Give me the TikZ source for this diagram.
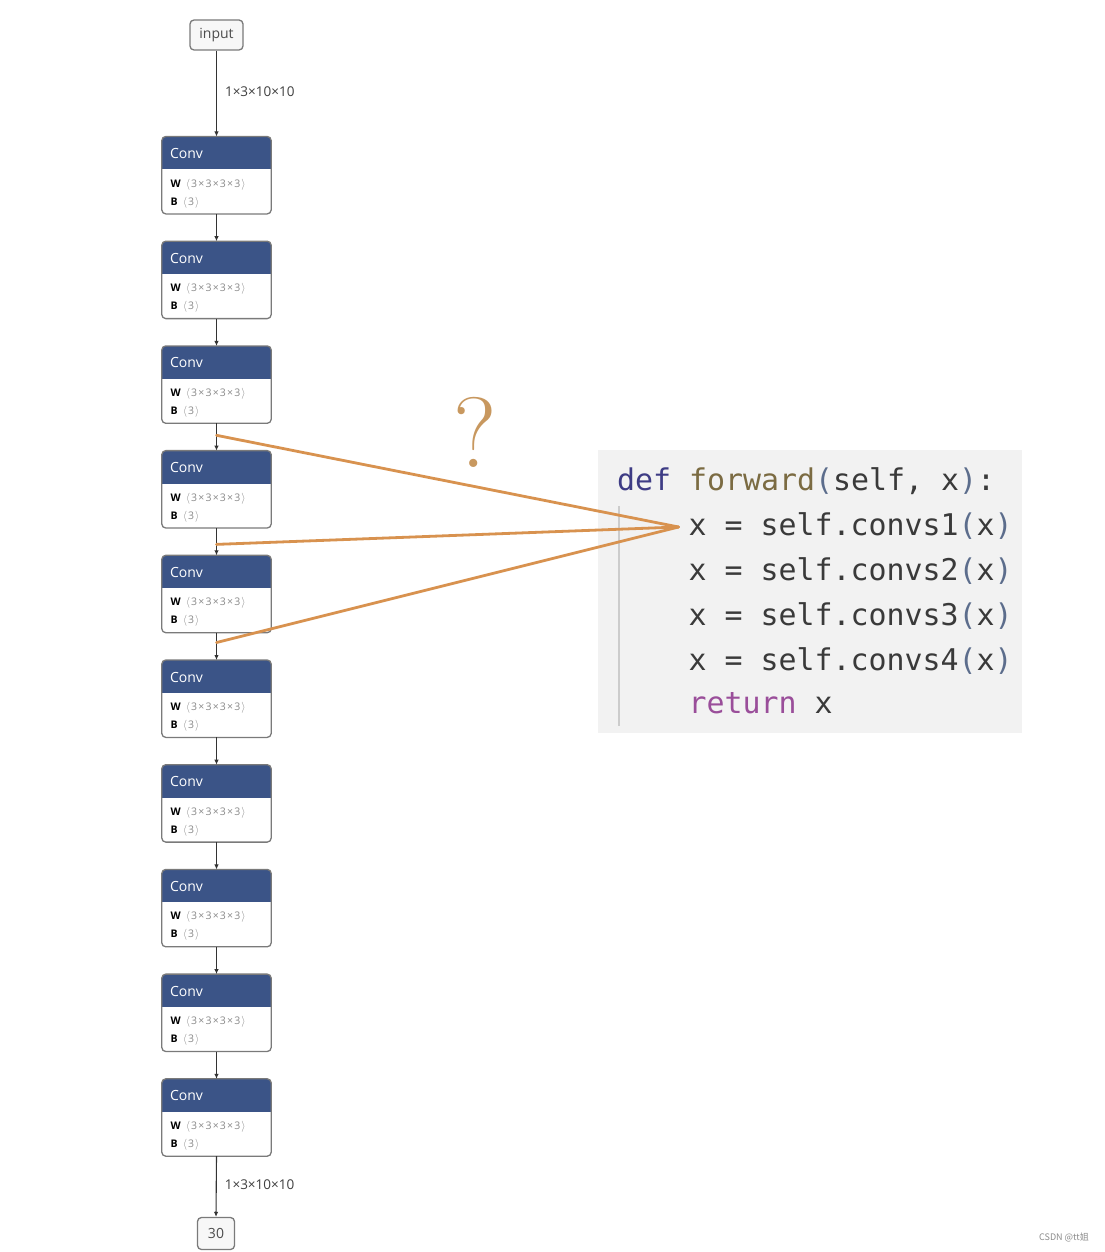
\documentclass[tikz,border=0pt]{standalone}
\usepackage{fontspec}
\usetikzlibrary{calc,arrows.meta}
\newfontfamily\uifont{Open Sans}
\newfontfamily\codefont{DejaVu Sans Mono}
\newfontfamily\cjkfont{Noto Sans CJK SC}
\definecolor{hdr}{HTML}{3B5487}
\definecolor{boxline}{HTML}{7A7A7A}
\definecolor{wire}{HTML}{D8924F}
\definecolor{qmark}{HTML}{C8985F}
\definecolor{codebg}{HTML}{F2F2F2}
\definecolor{kwdef}{HTML}{3E3C85}
\definecolor{fname}{HTML}{7B6B42}
\definecolor{paren}{HTML}{5C6D8C}
\definecolor{plain}{HTML}{3A3A3A}
\definecolor{kwret}{HTML}{9A4E9A}
\definecolor{dimtxt}{HTML}{8A8A8A}
\newcommand\timesgap{\kern1.2pt×\kern1.2pt}
\tikzset{
  convbox/.style={rectangle, minimum width=109pt, minimum height=77pt, inner sep=0pt},
  iobox/.style={draw=boxline, line width=1.3pt, fill=black!3, rounded corners=4pt,
    inner sep=0pt, font=\uifont\fontsize{14}{14}\selectfont, text=black!70},
  convtitle/.style={anchor=base west, inner sep=0pt, text=white, font=\uifont\fontsize{14}{14}\selectfont},
  attr/.style={anchor=base west, inner sep=0pt, font=\uifont\fontsize{10.5}{11}\selectfont},
  edge/.style={draw=black!80, line width=1.1pt, -{Latex[length=5pt,width=4.5pt]}},
  shapelbl/.style={anchor=west, inner sep=0pt, text=black!75, font=\uifont\fontsize{13.5}{14}\selectfont},
  wireline/.style={draw=wire, line width=2.8pt, line cap=round},
  codeline/.style={anchor=base west, inner sep=0pt, font=\codefont\fontsize{29.9}{30}\selectfont, text=plain},
}
\begin{document}
\begin{tikzpicture}[x=1pt,y=-1pt]
\useasboundingbox (0,0) rectangle (1104,1252);
\fill[white] (0,0) rectangle (1104,1252);

% input and output nodes
\node[iobox, minimum width=53pt, minimum height=30pt] (input) at (216.5,35) {input};
\node[iobox, minimum width=37pt, minimum height=32pt] (out) at (216,1233.5) {30};

% the ten Conv blocks
\foreach \i in {1,...,10} {
  \pgfmathsetmacro\ctr{136.7+104.7*(\i-1)+38.5}
  \node[convbox] (conv\i) at (216.5,\ctr) {};
  \begin{scope}
    \clip[rounded corners=4pt] (conv\i.south west) rectangle (conv\i.north east);
    \fill[white] (conv\i.south west) rectangle (conv\i.north east);
    \fill[hdr] (conv\i.north west) rectangle ([yshift=-33pt]conv\i.north east);
  \end{scope}
  \draw[boxline, line width=1.3pt, rounded corners=4pt] (conv\i.south west) rectangle (conv\i.north east);
  \node[convtitle] (conv\i-t) at ($(conv\i.north west)+(8,22)$) {Conv};
  \node[attr] (conv\i-w) at ($(conv\i.north west)+(8.5,50.5)$)
    {\textbf{W}\enspace\textcolor{dimtxt}{$\langle$\kern1pt 3\timesgap 3\timesgap 3\timesgap 3\kern1pt$\rangle$}};
  \node[attr] (conv\i-b) at ($(conv\i.north west)+(8.5,68.5)$)
    {\textbf{B}\enspace\textcolor{dimtxt}{$\langle$\kern1pt 3\kern1pt$\rangle$}};
}

% data flow
\draw[edge] (input.south) -- (conv1.north)
  node[pos=0.48, shapelbl, xshift=8pt] (lblin) {1×3×10×10};
\foreach \i [evaluate=\i as \j using int(\i+1)] in {1,...,9} {
  \draw[edge] (conv\i.south) -- (conv\j.north);
}
\draw[edge] (conv10.south) -- (out.north)
  node[pos=0.47, shapelbl, xshift=8pt] (lblout) {1×3×10×10};

% code listing
\fill[codebg] (598,450) rectangle (1022,733);
\draw[black!20, line width=1.8pt] (619,506) -- (619,726);
\node[codeline] (c0) at (617,490)
  {\textcolor{kwdef}{def} \textcolor{fname}{forward}\textcolor{paren}{(}self, x\textcolor{paren}{)}:};
\node[codeline] (c1) at (688.5,535) {x = self.convs1\textcolor{paren}{(}x\textcolor{paren}{)}};
\node[codeline] (c2) at (688.5,580) {x = self.convs2\textcolor{paren}{(}x\textcolor{paren}{)}};
\node[codeline] (c3) at (688.5,625) {x = self.convs3\textcolor{paren}{(}x\textcolor{paren}{)}};
\node[codeline] (c4) at (688.5,670) {x = self.convs4\textcolor{paren}{(}x\textcolor{paren}{)}};
\node[codeline] (c5) at (688.5,713) {\textcolor{kwret}{return} x};

% which layers does convs1 cover?
\coordinate (apex) at ($(c1.base west)+(-10,-8)$);
\coordinate (tap1) at ($(conv3.south)!0.44!(conv4.north)$);
\coordinate (tap2) at ($(conv4.south)!0.6!(conv5.north)$);
\coordinate (tap3) at ($(conv5.south)!0.36!(conv6.north)$);
\draw[wireline] (tap1) -- (apex);
\draw[wireline] (tap2) -- (apex);
\draw[wireline] (tap3) -- (apex);
\node[text=qmark, inner sep=0pt, font=\fontsize{100}{100}\selectfont] (qm) at (475,432) {?};

% watermark
\node[anchor=east, inner sep=0pt, text=black!45, font=\cjkfont\fontsize{9}{10}\selectfont] (wm) at (1089,1237) {CSDN @tt姐};
\end{tikzpicture}
\end{document}
